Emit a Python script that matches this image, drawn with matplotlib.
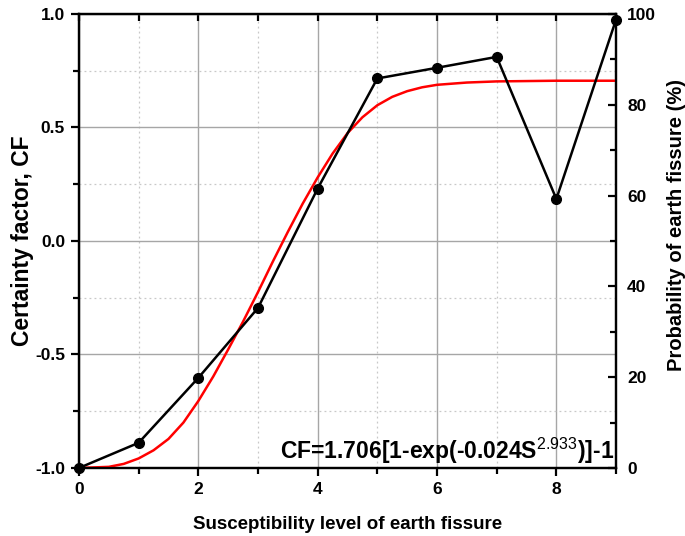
import numpy as np
import matplotlib
matplotlib.use("Agg")
import matplotlib.pyplot as plt
from matplotlib.ticker import MultipleLocator

plt.rcParams['font.family'] = ['Liberation Sans', 'DejaVu Sans']
plt.rcParams['mathtext.fontset'] = 'custom'
plt.rcParams['mathtext.rm'] = 'Liberation Sans'

# Observed certainty factor per susceptibility level
levels = [0, 1, 2, 3, 4, 5, 6, 7, 8, 9]
cf_obs = [-1.0, -0.889, -0.603, -0.295, 0.231, 0.716, 0.763, 0.811, 0.185, 0.975]

# Fitted curve
fit_s = [0, 0.5, 0.75, 1, 1.25, 1.5, 1.75, 2, 2.25, 2.5, 2.75, 3, 3.25, 3.5,
         3.75, 4, 4.25, 4.5, 4.75, 5, 5.25, 5.5, 5.75, 6, 6.5, 7, 8, 9]
fit_cf = [-1.0, -0.995, -0.982, -0.958, -0.922, -0.872, -0.80, -0.705, -0.597,
          -0.478, -0.355, -0.225, -0.09, 0.04, 0.165, 0.28, 0.385, 0.475,
          0.545, 0.598, 0.635, 0.66, 0.677, 0.688, 0.698, 0.703, 0.706, 0.706]

fit_label = r'CF=1.706[1-exp(-0.024S$^{\mathrm{2.933}}$)]-1'

fig = plt.figure(figsize=(6.85, 5.36), dpi=100)
ax = fig.add_axes([0.1153, 0.1269, 0.7840, 0.8470])

ax.plot(fit_s, fit_cf, color='#ff0000', lw=1.8, zorder=3)
ax.plot(levels, cf_obs, color='black', lw=1.8, marker='o', markersize=7,
        zorder=4, clip_on=False)

ax.set_xlim(0, 9)
ax.set_ylim(-1.0, 1.0)
ax.xaxis.set_major_locator(MultipleLocator(2))
ax.xaxis.set_minor_locator(MultipleLocator(1))
ax.yaxis.set_major_locator(MultipleLocator(0.5))
ax.yaxis.set_minor_locator(MultipleLocator(0.25))
ax.yaxis.set_major_formatter(plt.FormatStrFormatter('%.1f'))

ax.grid(True, which='major', color='#a6a6a6', lw=1.0, ls='-')
ax.grid(True, which='minor', color='#c8c8c8', lw=0.9, ls=(0, (1.5, 2.5)))
ax.set_axisbelow(True)

for sp in ax.spines.values():
    sp.set_linewidth(1.6)

ax.tick_params(axis='both', which='major', direction='out', length=6, width=1.6,
               labelsize=12.5, pad=4)
ax.tick_params(axis='both', which='minor', direction='out', length=4, width=1.6)
ax.tick_params(axis='x', which='both', top=True, labeltop=False)
for lbl in ax.get_xticklabels() + ax.get_yticklabels():
    lbl.set_fontweight('bold')

# top ticks point inward
for t in ax.xaxis.get_major_ticks() + ax.xaxis.get_minor_ticks():
    t.tick2line.set_marker(3)
    t.tick2line.set_markersize(5)

ax.set_xlabel('Susceptibility level of earth fissure', fontsize=13.5,
              fontweight='bold', labelpad=14)
ax.set_ylabel('Certainty factor, CF', fontsize=16.5, fontweight='bold',
              labelpad=1)

ax.text(0.996, 0.004, fit_label, transform=ax.transAxes, ha='right',
        va='bottom', fontsize=16.5, fontweight='bold', zorder=5)

ax2 = ax.twinx()
ax2.set_ylim(0, 100)
ax2.yaxis.set_major_locator(MultipleLocator(20))
ax2.yaxis.set_minor_locator(MultipleLocator(10))
ax2.tick_params(axis='y', which='major', direction='in', length=6, width=1.6,
                labelsize=12.5, pad=8)
ax2.tick_params(axis='y', which='minor', direction='in', length=4, width=1.6)
for lbl in ax2.get_yticklabels():
    lbl.set_fontweight('bold')
for sp in ax2.spines.values():
    sp.set_linewidth(1.6)
ax2.set_ylabel('Probability of earth fissure (%)', fontsize=14.5,
               fontweight='bold', labelpad=8)
ax2.yaxis.label.set_y(0.535)

fig.savefig('out.png', dpi=100)
